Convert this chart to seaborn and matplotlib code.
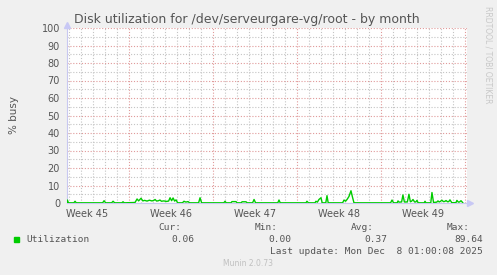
import matplotlib
matplotlib.use("Agg")
import matplotlib.pyplot as plt
import seaborn as sns
import pandas as pd

# ---- data (days relative to Monday of week 46) ----
days = [-5.17, -5.14, -5.05, -4.6, -4.5, -4.4, -2.2, -2.08, -1.95, -1.45, -1.33, -1.2,
        -0.6, -0.5, -0.4, 0.5, 0.67, 0.8, 1.0, 1.15, 1.3, 1.5, 1.7, 1.9, 2.05, 2.17, 2.3,
        2.45, 2.58, 2.7, 2.9, 3.1, 3.3, 3.42, 3.55, 3.67, 3.8, 3.92, 4.05, 4.45, 4.58,
        4.7, 4.8, 4.92, 5.05, 5.8, 5.92, 6.05, 7.9, 8.0, 8.1, 8.5, 8.58, 8.7, 8.85, 8.92,
        9.0, 9.35, 9.42, 9.5, 9.68, 9.75, 9.85, 10.3, 10.42, 10.55, 12.4, 12.5, 12.6,
        14.75, 14.83, 14.95, 15.5, 15.58, 15.7, 15.83, 16.0, 16.1, 16.4, 16.5, 16.6,
        17.8, 17.92, 18.05, 18.17, 18.33, 18.5, 18.62, 18.75, 21.8, 21.92, 22.05, 22.35,
        22.42, 22.5, 22.72, 22.83, 22.95, 23.2, 23.33, 23.45, 23.55, 23.67, 23.8, 23.9,
        24.0, 24.1, 24.6, 24.67, 24.75, 25.15, 25.25, 25.38, 25.65, 25.75, 25.85, 25.95,
        26.08, 26.2, 26.32, 26.42, 26.55, 26.65, 26.75, 26.9, 27.25, 27.33, 27.45,
        27.55, 27.67, 27.83]
busy = [0.3, 1.7, 0.1, 0.1, 1.0, 0.1, 0.1, 1.3, 0.1, 0.1, 1.0, 0.1,
        0.1, 0.7, 0.1, 0.3, 2.3, 1.2, 2.7, 1.2, 1.5, 1.1, 1.6, 1.2, 1.4, 2.0, 1.1,
        1.3, 1.7, 1.0, 1.2, 0.9, 1.1, 3.0, 1.3, 2.9, 1.1, 1.8, 0.1, 0.1, 1.0,
        0.6, 0.6, 0.8, 0.1, 0.1, 3.0, 0.1, 0.1, 1.0, 0.1, 0.1, 0.8, 0.8, 0.8, 0.8,
        0.1, 0.1, 0.7, 0.7, 0.7, 0.7, 0.1, 0.1, 2.0, 0.1, 0.1, 1.7, 0.1,
        0.1, 1.0, 0.1, 0.1, 1.0, 0.5, 2.0, 3.0, 0.1, 0.1, 4.2, 0.1,
        0.1, 1.7, 1.0, 2.0, 3.7, 7.0, 3.5, 0.1, 0.1, 1.7, 0.1, 0.1,
        1.2, 0.5, 0.6, 4.6, 0.6, 0.6, 5.0, 0.7, 1.0, 2.0, 0.6, 0.6,
        1.5, 0.1, 0.1, 1.0, 0.1, 0.1, 6.0, 0.3, 0.5, 1.2, 0.6, 0.9,
        1.6, 0.8, 0.9, 1.4, 0.7, 0.8, 1.8, 0.2, 0.2, 1.5, 0.5,
        0.6, 1.3, 0.1]
week_labels = ["Week 45", "Week 46", "Week 47", "Week 48", "Week 49"]
week_centers = [-3.5, 3.5, 10.5, 17.5, 24.5]
week_starts = [0, 7, 14, 21, 28]
y_ticks = [0, 10, 20, 30, 40, 50, 60, 70, 80, 90, 100]

df = pd.DataFrame({"day": days, "busy": busy})

sns.set_theme(style="white")
plt.rcParams["font.family"] = ["DejaVu Sans"]

W, H = 497, 275
fig = plt.figure(figsize=(W / 100, H / 100), dpi=100, facecolor="#f0f0f0")
x0, x1, ytop, ybot = 67, 467, 28, 203
ax = fig.add_axes([x0 / W, 1 - ybot / H, (x1 - x0) / W, (ybot - ytop) / H])
ax.set_facecolor("white")

xmin, xmax = -5.17, 28.17
ax.set_xlim(xmin, xmax)
ax.set_ylim(0, 100)

red = "#e09a9a"
gray = "#c4c4c4"
dots = (0, (1, 1.6))
# minor grid
for d in range(-5, 29):
    if d not in week_starts:
        ax.axvline(d, color=gray, lw=0.8, ls=dots, zorder=0)
for v in range(5, 100, 10):
    ax.axhline(v, color=gray, lw=0.8, ls=dots, zorder=0)
# major grid
for d in week_starts:
    ax.axvline(d, color=red, lw=0.8, ls=dots, zorder=1)
for v in y_ticks[1:]:
    ax.axhline(v, color=red, lw=0.8, ls=dots, zorder=1)

sns.lineplot(data=df, x="day", y="busy", ax=ax, color="#00cc00", lw=1.0, zorder=3)
ax.axhline(0.1, color="#a8d8a8", lw=0.8, zorder=2)

ax.set_xticks(week_centers)
ax.set_xticklabels(week_labels)
ax.set_yticks(y_ticks)
ax.set_yticklabels([str(v) for v in y_ticks])
ax.tick_params(axis="both", length=0, labelsize=7, colors="#555555")
ax.tick_params(axis="x", pad=4.5)
ax.tick_params(axis="y", pad=5)
ax.set_xlabel("")
ax.set_ylabel("")
for s in ["top", "right"]:
    ax.spines[s].set_visible(False)
ax.spines["left"].set_color("#c8c8f0")
ax.spines["bottom"].set_color("#c8c8f0")
ax.spines["left"].set_linewidth(0.8)
ax.spines["bottom"].set_linewidth(0.8)
# arrows
ax.plot([xmin], [101.5], marker="^", color="#c8c8f5", ms=5, clip_on=False, zorder=5)
ax.plot([xmax + 0.25], [0], marker=">", color="#c8c8f5", ms=5, clip_on=False, zorder=5)

txt = "#555555"
fig.text(247 / W, 1 - 19 / H, "Disk utilization for /dev/serveurgare-vg/root - by month",
         ha="center", va="center", fontsize=9, color=txt)
fig.text(14 / W, 1 - 115 / H, "% busy", rotation=90, ha="center", va="center",
         fontsize=7.5, color=txt)
fig.text(488 / W, 1 - 55 / H, "RRDTOOL / TOBI OETIKER", rotation=270, ha="center",
         va="center", fontsize=5.5, color="#c8c8c8")

mono = "DejaVu Sans Mono"
ms = 6.8
fig.patches.append(plt.Rectangle((14 / W, 1 - 242 / H), 5 / W, 5 / H,
                                 transform=fig.transFigure, color="#00cc00"))
fig.text(26 / W, 1 - 239.5 / H, "Utilization", family=mono, fontsize=ms, color=txt, va="center")
heads = ["Cur:", "Min:", "Avg:", "Max:"]
hx = [181, 278, 374, 470]
vals = ["0.06", "0.00", "0.37", "89.64"]
vx = [194, 291, 387, 483]
for h, x in zip(heads, hx):
    fig.text(x / W, 1 - 228 / H, h, family=mono, fontsize=ms, color=txt, ha="right", va="center")
for v, x in zip(vals, vx):
    fig.text(x / W, 1 - 239.5 / H, v, family=mono, fontsize=ms, color=txt, ha="right", va="center")
fig.text(483 / W, 1 - 251 / H, "Last update: Mon Dec  8 01:00:08 2025", family=mono,
         fontsize=ms, color=txt, ha="right", va="center")
fig.text(248 / W, 1 - 264 / H, "Munin 2.0.73", fontsize=5.5, color="#c0c0c0",
         ha="center", va="center")

fig.savefig("out.png", dpi=100, facecolor=fig.get_facecolor())
